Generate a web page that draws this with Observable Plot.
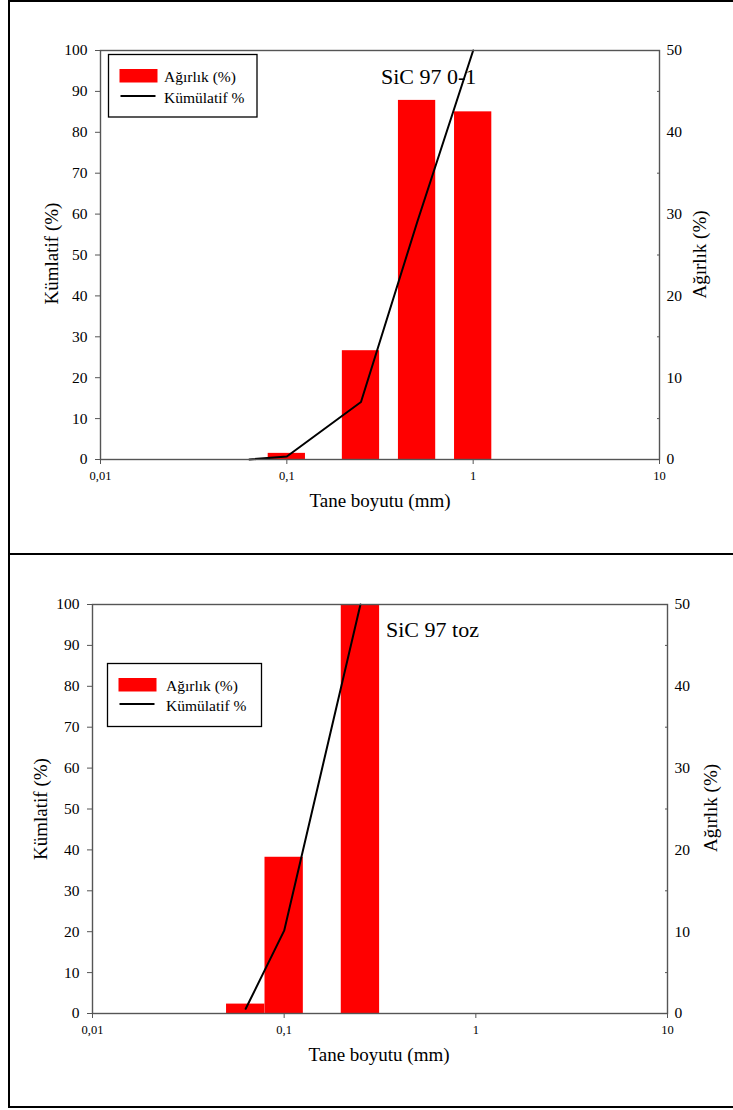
<!DOCTYPE html>
<html>
<head>
<meta charset="utf-8">
<script src="https://cdn.jsdelivr.net/npm/d3@7"></script>
<script src="https://cdn.jsdelivr.net/npm/@observablehq/plot@0.6"></script>
<style>
html, body { margin: 0; padding: 0; background: #fff; overflow: hidden; }
#wrap { position: relative; width: 733px; height: 1110px; overflow: hidden; font-family: "Liberation Serif", "Times New Roman", serif; }
.chart { position: absolute; left: 0; }
.chart svg, .chart svg text { font-family: "Liberation Serif", "Times New Roman", serif; }
.panel { position: absolute; left: 8px; width: 780px; border: 2px solid #000; box-sizing: border-box; background: transparent; pointer-events: none; }
#p1 { top: 0; height: 555px; }
#p2 { top: 553px; height: 555px; }
</style>
</head>
<body>
<div id="wrap">
  <div id="c1" class="chart" style="top:0"></div>
  <div id="c2" class="chart" style="top:552px"></div>
  <div id="p1" class="panel"></div>
  <div id="p2" class="panel"></div>
</div>
<script>
// ---------- Data ----------
// Panel 1: SiC 97 0-1
const sizesA = [0.1, 0.25, 0.5, 1];               // sieve size (mm), bar centres
const weightsA = [0.75, 13.3, 43.9, 42.5];         // Ağırlık (%)
const cumSizesA = [0.063, 0.1, 0.25, 0.5, 1];      // sizes for cumulative curve
const cumA = [0, 0.75, 14.05, 57.95, 100];         // Kümülatif %

// Panel 2: SiC 97 toz
const sizesB = [0.063, 0.1, 0.25];
const weightsB = [1.15, 19.1, 79.75];
const cumSizesB = [0.063, 0.1, 0.25];
const cumB = [1.15, 20.25, 100];

// Axis ticks
const xTicks = [0.01, 0.1, 1, 10];
const leftTicks = [0, 10, 20, 30, 40, 50, 60, 70, 80, 90, 100];
const rightLabelTicks = [0, 20, 40, 60, 80, 100];   // shown as 0..50
const rightMinorTicks = [10, 30, 50, 70, 90];

const legendLabels = ["Ağırlık (%)", "Kümülatif %"];
const xTitle = "Tane boyutu (mm)";
const yLeftTitle = "Kümlatif (%)";
const yRightTitle = "Ağırlık (%)";

// ---------- Drawing ----------
const HALF = Math.pow(10, 0.1); // half bar width in log space
const FONT = '"Liberation Serif", "Times New Roman", serif';
const AXIS = "#555";

function chart({sizes, weights, cumSizes, cum, height, margins}) {
  const bars = sizes.map((s, i) => ({size: s, w: weights[i]}));
  const curve = cumSizes.map((s, i) => ({size: s, c: cum[i]}));
  return Plot.plot({
    width: 733,
    height,
    ...margins,
    style: {fontFamily: FONT, background: "transparent", color: "#000", overflow: "visible"},
    x: {type: "log", domain: [0.01, 10]},
    y: {domain: [0, 100]},
    marks: [
      Plot.rect(bars, {x1: d => d.size / HALF, x2: d => d.size * HALF, y1: 0, y2: d => d.w * 2, fill: "#ff0000", clip: true}),
      Plot.line(curve, {x: "size", y: "c", stroke: "#000", strokeWidth: 2}),
      Plot.frame({stroke: AXIS, strokeWidth: 1.4}),
      Plot.axisX({ticks: xTicks, tickFormat: d => String(d).replace(".", ","), tickSize: 5, tickPadding: 7, fontSize: 12.5, stroke: AXIS, fill: "#000", label: null}),
      Plot.axisY({anchor: "left", ticks: leftTicks, tickSize: 5, tickPadding: 8, fontSize: 15.5, stroke: AXIS, fill: "#000", label: null}),
      Plot.axisY({anchor: "right", ticks: rightLabelTicks, tickSize: 0, tickPadding: 7, tickFormat: d => d / 2, fontSize: 15.5, stroke: AXIS, fill: "#000", label: null}),
      Plot.axisY({anchor: "right", ticks: rightMinorTicks, tickSize: -3, tickFormat: () => "", stroke: AXIS, label: null})
    ]
  });
}

function annotate(svg, a) {
  const g = d3.select(svg).append("g").style("font-family", FONT).attr("fill", "#000").attr("text-anchor", "start");
  // chart title
  g.append("text").attr("x", a.title[0]).attr("y", a.title[1]).attr("text-anchor", "start").attr("font-size", 22).text(a.titleText);
  // axis titles
  g.append("text").attr("x", a.xTitle[0]).attr("y", a.xTitle[1]).attr("text-anchor", "middle").attr("font-size", 19).text(xTitle);
  g.append("text").attr("transform", `translate(${a.yLeft[0]},${a.yLeft[1]}) rotate(-90)`).attr("text-anchor", "middle").attr("font-size", 19).text(yLeftTitle);
  g.append("text").attr("transform", `translate(${a.yRight[0]},${a.yRight[1]}) rotate(-90)`).attr("text-anchor", "middle").attr("font-size", 19).text(yRightTitle);
  // legend
  const [lx, ly, lw, lh] = a.legend;
  const L = g.append("g");
  L.append("rect").attr("x", lx).attr("y", ly).attr("width", lw).attr("height", lh).attr("fill", "#fff").attr("stroke", "#000").attr("stroke-width", 1.3);
  L.append("rect").attr("x", lx + 11).attr("y", ly + a.sw[0]).attr("width", 38).attr("height", 13.5).attr("fill", "#ff0000");
  L.append("line").attr("x1", lx + 12).attr("x2", lx + 47).attr("y1", ly + a.sw[1]).attr("y2", ly + a.sw[1]).attr("stroke", "#000").attr("stroke-width", 2);
  L.append("text").attr("x", lx + a.sw[2]).attr("y", ly + a.sw[3]).attr("text-anchor", "start").attr("font-size", 15.5).text(legendLabels[0]);
  L.append("text").attr("x", lx + a.sw[2]).attr("y", ly + a.sw[4]).attr("text-anchor", "start").attr("font-size", 15.5).text(legendLabels[1]);
}

const svg1 = chart({sizes: sizesA, weights: weightsA, cumSizes: cumSizesA, cum: cumA, height: 552,
  margins: {marginLeft: 100, marginRight: 74, marginTop: 50, marginBottom: 93}});
annotate(svg1, {titleText: "SiC 97 0-1", title: [381, 84], xTitle: [380, 507], yLeft: [58, 253.5], yRight: [706, 254.5],
  legend: [108.5, 54.5, 148.5, 62.5], sw: [14.5, 41.5, 55.5, 27.5, 48]});
document.getElementById("c1").appendChild(svg1);

const svg2 = chart({sizes: sizesB, weights: weightsB, cumSizes: cumSizesB, cum: cumB, height: 558,
  margins: {marginLeft: 92, marginRight: 66, marginTop: 52, marginBottom: 97}});
annotate(svg2, {titleText: "SiC 97 toz", title: [386, 85], xTitle: [379, 509], yLeft: [47, 257], yRight: [717, 256],
  legend: [107.5, 111.5, 154, 63], sw: [14.5, 40.5, 58.5, 27, 47]});
document.getElementById("c2").appendChild(svg2);
</script>
</body>
</html>
